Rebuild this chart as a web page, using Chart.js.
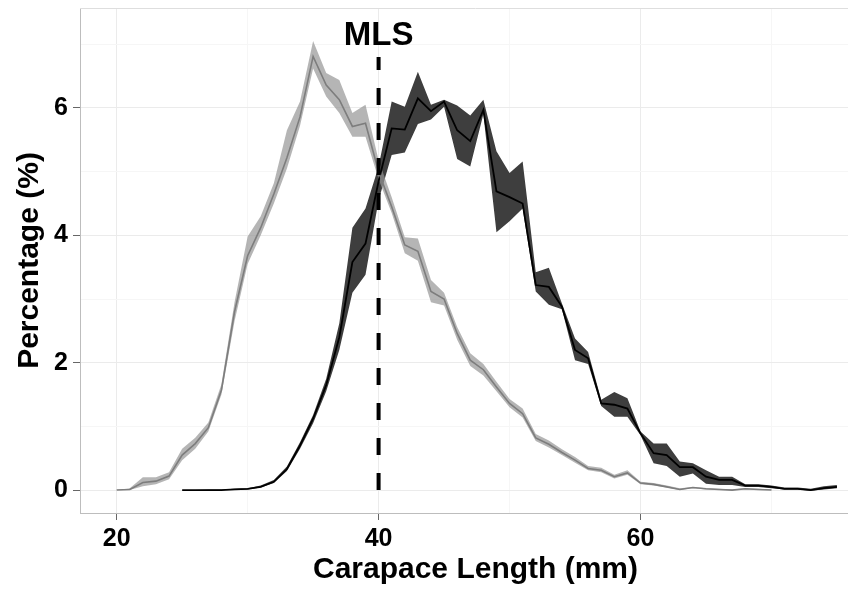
<!DOCTYPE html>
<html>
<head>
<meta charset="utf-8">
<script src="https://cdn.jsdelivr.net/npm/chart.js@4.4.1/dist/chart.umd.min.js"></script>
<style>
  html, body { margin: 0; padding: 0; background: #fff; overflow: hidden; width: 848px; height: 590px; }
  canvas { display: block; }
</style>
</head>
<body>
<!-- the original panel runs a little past the right edge of the picture, so the canvas is wider than the window -->
<canvas id="sizeChart" width="871" height="590"></canvas>
<script>
// carapace length classes (mm)
const grayLengths = [20, 21, 22, 23, 24, 25, 26, 27, 28, 29, 30, 31, 32, 33, 34, 35, 36, 37, 38, 39,
    40, 41, 42, 43, 44, 45, 46, 47, 48, 49, 50, 51, 52, 53, 54, 55, 56, 57, 58, 59,
    60, 61, 62, 63, 64, 65, 66, 67, 68, 69, 70];
const grayMean = [0, 0.01, 0.12, 0.14, 0.22, 0.55, 0.73, 0.98, 1.57, 2.8, 3.68, 4.12, 4.65, 5.22, 5.86, 6.81, 6.36, 6.13, 5.71, 5.76,
    5.0, 4.45, 3.85, 3.75, 3.12, 3.0, 2.46, 2.04, 1.89, 1.62, 1.36, 1.2, 0.82, 0.72, 0.59, 0.47, 0.34, 0.31, 0.21, 0.27,
    0.11, 0.09, 0.05, 0.01, 0.04, 0.02, 0.01, 0, 0.02, 0.01, 0];
const grayLower = [0, 0, 0.06, 0.09, 0.17, 0.47, 0.65, 0.92, 1.5, 2.65, 3.55, 4.0, 4.5, 5.05, 5.72, 6.62, 6.18, 5.92, 5.55, 5.55,
    4.88, 4.35, 3.72, 3.6, 2.95, 2.9, 2.36, 1.95, 1.8, 1.55, 1.3, 1.14, 0.77, 0.67, 0.55, 0.43, 0.31, 0.28, 0.18, 0.24,
    0.09, 0.07, 0.04, 0, 0.03, 0.01, 0, 0, 0.01, 0, 0];
const grayUpper = [0, 0.03, 0.2, 0.2, 0.28, 0.65, 0.82, 1.06, 1.66, 2.95, 3.98, 4.3, 4.82, 5.65, 6.1, 7.05, 6.55, 6.44, 5.92, 6.05,
    5.18, 4.6, 3.97, 3.95, 3.3, 3.1, 2.56, 2.15, 1.98, 1.7, 1.43, 1.28, 0.88, 0.78, 0.64, 0.52, 0.38, 0.35, 0.24, 0.31,
    0.13, 0.11, 0.07, 0.03, 0.05, 0.03, 0.02, 0.01, 0.03, 0.02, 0.01];

const darkLengths = [25, 26, 27, 28, 29, 30, 31, 32, 33, 34, 35, 36, 37, 38, 39, 40, 41, 42, 43, 44,
    45, 46, 47, 48, 49, 50, 51, 52, 53, 54, 55, 56, 57, 58, 59, 60, 61, 62, 63, 64,
    65, 66, 67, 68, 69, 70, 71, 72, 73, 74, 75];
const darkMean = [0, 0, 0, 0, 0.01, 0.02, 0.05, 0.13, 0.33, 0.7, 1.12, 1.65, 2.4, 3.58, 3.87, 4.85, 5.68, 5.66, 6.15, 5.95,
    6.1, 5.65, 5.48, 5.97, 4.69, 4.6, 4.5, 3.22, 3.19, 2.88, 2.2, 2.07, 1.36, 1.34, 1.28, 0.89, 0.58, 0.55, 0.36, 0.36,
    0.21, 0.16, 0.16, 0.07, 0.07, 0.05, 0.02, 0.02, 0, 0.03, 0.05];
const darkLower = [0, 0, 0, 0, 0, 0.01, 0.04, 0.11, 0.3, 0.65, 1.05, 1.55, 2.2, 3.1, 3.38, 4.55, 5.26, 5.3, 5.75, 5.82,
    6.02, 5.2, 5.08, 5.9, 4.05, 4.22, 4.42, 3.12, 2.91, 2.84, 2.04, 1.98, 1.32, 1.15, 1.15, 0.86, 0.42, 0.38, 0.21, 0.26,
    0.1, 0.08, 0.08, 0.05, 0.05, 0.03, 0.01, 0.01, -0.01, 0.01, 0.03];
const darkUpper = [0, 0, 0.01, 0.01, 0.02, 0.03, 0.07, 0.16, 0.37, 0.75, 1.18, 1.75, 2.62, 4.12, 4.42, 5.08, 6.1, 6.02, 6.57, 6.05,
    6.13, 6.04, 5.88, 6.13, 5.32, 4.98, 5.16, 3.42, 3.49, 2.93, 2.38, 2.17, 1.42, 1.54, 1.44, 0.92, 0.73, 0.73, 0.45, 0.42,
    0.31, 0.21, 0.21, 0.09, 0.09, 0.07, 0.04, 0.04, 0.02, 0.06, 0.08];

// maturity (MLS) marker
const mlsLength = 40;
const mlsTop = 6.8;

const xTicks = [20, 30, 40, 50, 60, 70];
const yTicks = [0, 1, 2, 3, 4, 5, 6, 7];

const pts = (xs, ys) => xs.map((x, i) => ({ x: x, y: ys[i] }));
const FONT = "'Liberation Sans', Arial, sans-serif";

const band = (data, color, fill, order) => ({
    data: data, borderWidth: 0, pointRadius: 0, backgroundColor: color,
    fill: fill, order: order, tension: 0
});

const mlsLabel = {
    id: 'mlsLabel',
    afterDraw(chart) {
        const ctx = chart.ctx;
        const x = chart.scales.x.getPixelForValue(mlsLength);
        ctx.save();
        // top panel border
        ctx.strokeStyle = '#dedede';
        ctx.lineWidth = 1;
        ctx.beginPath();
        ctx.moveTo(chart.chartArea.left, chart.chartArea.top + 0.5);
        ctx.lineTo(chart.chartArea.right, chart.chartArea.top + 0.5);
        ctx.stroke();
        ctx.fillStyle = '#000';
        ctx.font = "bold 33px " + FONT;
        ctx.textAlign = 'center';
        ctx.textBaseline = 'alphabetic';
        ctx.fillText('MLS', x, 45);
        ctx.restore();
    }
};

new Chart(document.getElementById('sizeChart').getContext('2d'), {
    type: 'line',
    data: {
        datasets: [
            band(pts(darkLengths, darkUpper), 'rgb(62,62,62)', '+1', 7),
            band(pts(darkLengths, darkLower), 'rgb(62,62,62)', false, 6),
            band(pts(grayLengths, grayUpper), 'rgba(150,150,150,0.7)', '+1', 5),
            band(pts(grayLengths, grayLower), 'rgba(150,150,150,0.7)', false, 4),
            { data: pts(darkLengths, darkMean), borderColor: '#000', borderWidth: 1.8, pointRadius: 0, fill: false, order: 3 },
            { data: pts(grayLengths, grayMean), borderColor: '#7d7d7d', borderWidth: 1.6, pointRadius: 0, fill: false, order: 2 },
            {
                data: [{ x: mlsLength, y: 0 }, { x: mlsLength, y: mlsTop }],
                borderColor: '#000', borderWidth: 4, borderDash: [17, 18], borderCapStyle: 'butt',
                pointRadius: 0, fill: false, order: 1
            }
        ]
    },
    options: {
        responsive: false,
        animation: false,
        layout: { padding: { top: 8, left: 0, bottom: 0, right: 0 } },
        plugins: { legend: { display: false }, tooltip: { enabled: false } },
        scales: {
            x: {
                type: 'linear', min: 17.2, max: 77.6,
                afterBuildTicks: (s) => { s.ticks = xTicks.map(v => ({ value: v })); },
                afterFit: (s) => { s.height = 77; s.paddingLeft = 0; s.paddingRight = 0; },
                ticks: {
                    color: '#000', padding: 4,
                    font: { family: FONT, size: 25, weight: 'bold' },
                    callback: (v) => (v % 20 === 0 ? String(v) : '')
                },
                grid: {
                    color: (c) => (c.tick && c.tick.value % 20 === 0 ? '#ebebeb' : '#f6f6f6'),
                    tickColor: (c) => (c.tick && c.tick.value % 20 === 0 ? '#666' : 'rgba(0,0,0,0)'),
                    tickLength: 7
                },
                border: { color: '#bdbdbd', width: 1 },
                title: {
                    display: true, text: 'Carapace Length (mm)', color: '#000',
                    font: { family: FONT, size: 30, weight: 'bold' },
                    padding: { top: 0, bottom: 2 }
                }
            },
            y: {
                type: 'linear', min: -0.36, max: 7.57,
                afterBuildTicks: (s) => { s.ticks = yTicks.map(v => ({ value: v })); },
                afterFit: (s) => { s.width = 80; s.paddingTop = 0; s.paddingBottom = 0; },
                ticks: {
                    color: '#000', padding: 5,
                    font: { family: FONT, size: 25, weight: 'bold' },
                    callback: (v) => (v % 2 === 0 ? String(v) : '')
                },
                grid: {
                    color: (c) => (c.tick && c.tick.value % 2 === 0 ? '#ebebeb' : '#f6f6f6'),
                    tickColor: (c) => (c.tick && c.tick.value % 2 === 0 ? '#666' : 'rgba(0,0,0,0)'),
                    tickLength: 7
                },
                border: { color: '#bdbdbd', width: 1 },
                title: {
                    display: true, text: 'Percentage (%)', color: '#000',
                    font: { family: FONT, size: 30, weight: 'bold' },
                    padding: { top: 12, bottom: 0 }
                }
            }
        }
    },
    plugins: [mlsLabel]
});
</script>
</body>
</html>
